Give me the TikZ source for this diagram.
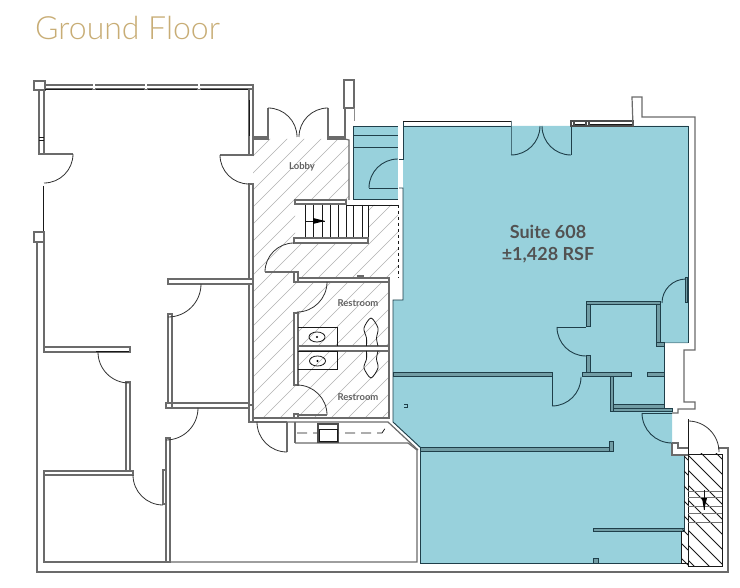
\documentclass[tikz,border=0pt]{standalone}
\usepackage{fontspec}
\setmainfont{Lato}
\newfontfamily\titlefont{Lato Light}
\usetikzlibrary{calc}
\definecolor{suiteblue}{HTML}{98D1DC}
\definecolor{walldark}{HTML}{1F3F4A}
\definecolor{titlegold}{HTML}{C8AD75}
\tikzset{
	greywall/.style={draw=black!58, line width=1.1pt, fill=white},
	bluewall/.style={draw=walldark, line width=1pt, fill=suiteblue!75!black},
	outline/.style={draw=black!58, line width=1.2pt},
	bluedge/.style={draw=walldark, line width=0.9pt},
	swing/.style={draw=black!80, line width=0.8pt},
	thinwall/.style={draw=black!90, line width=0.8pt},
	hatchline/.style={draw=black!30, line width=0.65pt},
	stairline/.style={draw=black!90, line width=0.75pt},
	roomlabel/.style={text=black!62, font=\fontsize{9.5}{11}\selectfont\bfseries},
	suitelabel/.style={text=black!68, font=\fontsize{18}{22}\selectfont\bfseries, align=center}
}
\def\swingdoor[#1](#2)(#3:#4:#5){\draw[#1] ($(#2)+({#5*cos(#3)},{#5*sin(#3)})$) arc (#3:#4:#5);}
\begin{document}
\begin{tikzpicture}[x=1pt, y=-1pt]
	%%%%% START %%%%%
	\useasboundingbox (0, 0) rectangle (740, 588);
	\fill[white] (0, 0) rectangle (740, 588);

	\node[text=titlegold, font=\fontsize{32}{36}\selectfont\titlefont, anchor=west, inner sep=0pt] (title) at (35, 28) {Ground Floor};

	% blue floor of the suite
	\fill[suiteblue] (403, 126) -- (688, 126) -- (688, 343) -- (664, 343) -- (664, 409) -- (672, 409) -- (672, 455) -- (684, 455) -- (684, 528) -- (681, 531) -- (681, 563) -- (420, 563) -- (420, 448) -- (393, 422) -- (393, 300) -- (403, 300) -- cycle;
	\fill[suiteblue] (353, 126) rectangle (398, 199);

	\draw[bluedge] (353, 126) -- (398, 126);
	\draw[bluedge] (353, 126) -- (353, 199) -- (398, 199);
	\draw[bluedge] (353, 135) -- (398, 135);
	\draw[bluedge] (353, 147) -- (398, 147);
	\draw[bluedge] (403, 121) -- (403, 159) -- (399, 159);
	\draw[bluedge] (399, 188) -- (403, 188) -- (403, 300) -- (393, 300) -- (393, 422) -- (421, 448);
	\draw[bluedge] (420, 452) -- (420, 563) -- (681, 563) -- (681, 531);
	\draw[bluedge] (684, 455) -- (684, 528);
	\draw[bluedge] (571, 126) -- (688, 126) -- (688, 343);
	\draw[bluedge] (403, 126) -- (511, 126);
	\draw[bluedge] (664, 347) -- (664, 405);

	% hatched lobby and restrooms
	\begin{scope}
		\clip (253, 139) -- (349, 139) -- (349, 200) -- (295, 200) -- (295, 238) -- (368, 238) -- (368, 205) -- (398, 205) -- (398, 278) -- (389, 281) -- (389, 418) -- (253, 418) -- cycle;
		\foreach \k in {0,...,50}
			\draw[hatchline] ({-60+\k*17}, 418) -- ({240+\k*17}, 118);
	\end{scope}

	% outside walls
	\draw[greywall] (34, 81) rectangle (45, 90);
	\draw[outline] (37, 242) -- (37, 572) -- (728, 572) -- (728, 448) -- (718, 448);
	\draw[outline] (44, 242) -- (44, 347) -- (130, 347);
	\draw[greywall] (39, 90) rectangle (44, 154);
	\draw[thinwall] (39, 137) -- (44, 137);
	\draw[thinwall] (39, 140) -- (44, 140);
	\draw[greywall] (45, 85) rectangle (253, 89);
	\foreach \mx in {93, 145, 198}
		\fill[white] (\mx, 84.5) rectangle ({\mx+2}, 89.5);
	\draw[thinwall] (45, 89.5) -- (92, 89.5) (96, 89.5) -- (144, 89.5) (148, 89.5) -- (197, 89.5) (201, 89.5) -- (249, 89.5);
	\draw[greywall] (249, 89) rectangle (253, 155);
	\draw[thinwall] (249, 100) -- (249, 136);
	\draw[greywall] (253, 137) rectangle (268, 139);
	\draw[outline] (44, 154) -- (73, 154);
	\draw[thinwall] (43, 186) -- (43, 232);
	\draw[greywall] (34, 232) -- (44, 232) -- (44, 242) -- (37, 242) -- (34, 242) -- cycle;

	% inner walls on the left
	\draw[outline] (220, 155) -- (249, 155);
	\draw[greywall] (249, 184) rectangle (253, 279);
	\draw[greywall] (168, 279) rectangle (253, 284);
	\draw[greywall] (249, 284) rectangle (253, 405);
	\draw[greywall] (168, 314) rectangle (172, 403);
	\draw[greywall] (172, 403) rectangle (249, 408);
	\draw[greywall] (166, 403) rectangle (172, 408);
	\draw[greywall] (249, 405) rectangle (253, 422);
	\draw[greywall] (44, 347) rectangle (130, 352);
	\draw[thinwall] (96, 351.5) -- (129, 351.5);
	\draw[greywall] (126, 382) rectangle (130, 471);
	\draw[greywall] (44, 471) rectangle (133, 475);
	\draw[greywall] (163, 470) rectangle (166, 504);
	\draw[greywall] (166, 438) rectangle (170, 562);
	\draw[outline] (44, 475) -- (44, 562) -- (166, 562);
	\draw[outline] (170, 562) -- (417, 562) -- (417, 450) -- (408, 443) -- (295, 443);
	\swingdoor[swing](44, 154)(0:90:29);
	\swingdoor[swing](249, 155)(180:90:29);
	\swingdoor[swing](168, 284)(0:90:33);
	\swingdoor[swing](166, 408)(0:90:32);
	\swingdoor[swing](129, 352)(180:90:31);
	\swingdoor[swing](163, 475)(180:90:30);

	% lobby and stair
	\draw[outline] (268, 108) -- (268, 139);
	\draw[outline] (328, 108) -- (328, 139);
	\swingdoor[swing](268, 137)(270:360:29);
	\swingdoor[swing](328, 137)(270:180:29);
	\draw[greywall] (328, 137) rectangle (345, 139);
	\draw[outline] (345, 139) -- (349, 140) -- (349, 200);
	\draw[greywall] (344, 80) rectangle (354, 108);
	\draw[outline] (345, 108) -- (345, 137);
	\draw[black!45, line width=0.6pt] (354, 108) -- (354, 121);
	\draw[greywall] (295, 200) rectangle (346, 204);
	\draw[thinwall] (346, 205) -- (398, 205);
	\draw[thinwall, dashed] (398, 205) -- (398, 278);
	\foreach \tx in {305, 313, 322, 330, 338, 346, 353, 362}
		\draw[stairline] (\tx, 205) -- (\tx, 238);
	\draw[thinwall] (368, 205) -- (368, 243);
	\draw[greywall] (294, 238) rectangle (368, 243);
	\draw[stairline] (305, 221) -- (325, 221);
	\fill[black] (313, 218) -- (325, 221) -- (313, 224) -- cycle;
	\swingdoor[swing](294, 272)(270:180:29);
	\draw[outline] (265, 272) -- (294, 272);
	\draw[greywall] (294, 272) rectangle (298, 282);
	\draw[greywall] (298, 278) rectangle (389, 282);
	\draw[greywall] (358, 276) rectangle (363, 278);

	% restrooms
	\draw[outline] (389, 282) -- (389, 418) -- (253, 418);
	\draw[greywall] (294, 313) rectangle (298, 385);
	\draw[greywall] (298, 346) rectangle (389, 351);
	\draw[thinwall] (298, 327) -- (337, 327) -- (337, 346);
	\draw[thinwall] (298, 351) -- (337, 351) -- (337, 369) -- (298, 369);
	\draw[thinwall] (317, 337) ellipse (8 and 5);
	\draw[thinwall] (317.5, 361) ellipse (8 and 5);
	\fill[black] (317, 337) circle (1.2);
	\fill[black] (317.5, 361) circle (1.2);
	\draw[thinwall] plot[smooth] coordinates {(366.5, 346) (366.5, 338) (364, 328) (371, 318) (378, 328) (376.5, 338) (378, 346)};
	\draw[thinwall] plot[smooth] coordinates {(366.5, 351) (366.5, 359) (364, 368) (371, 378) (378, 368) (376.5, 359) (378, 351)};
	\swingdoor[swing](297, 282)(0:90:30);
	\swingdoor[swing](297, 415)(270:360:30);
	\draw[outline] (298, 415) -- (327, 415);
	\draw[greywall] (294, 414) rectangle (298, 418);
	\draw[outline] (253, 422) -- (287, 422);
	\draw[outline] (287, 422) -- (388, 422) -- (418, 450);
	\draw[outline] (287, 422) -- (287, 452);
	\draw[outline] (295, 422) -- (295, 443);
	\swingdoor[swing](287, 422)(180:90:30);
	\draw[thinwall, dash pattern=on 10pt off 6pt] (297, 433) -- (382, 433) -- (388, 424);
	\draw[greywall, draw=black!70] (318, 424) rectangle (338, 442);
	\draw[thinwall] (319, 429) rectangle (337, 441);

	% walls inside the suite
	\swingdoor[bluedge](398, 188)(270:180:29);
	\draw[bluedge] (369, 188) -- (398, 188);
	\draw[thinwall] (403, 121) -- (511, 121);
	\draw[bluewall] (511, 121) rectangle (511, 155);
	\swingdoor[bluedge](511, 126)(90:0:29);
	\swingdoor[bluedge](571, 126)(90:180:29);
	\draw[bluedge] (571, 121) -- (571, 155);
	\draw[greywall, draw=black!70] (571, 121) rectangle (633, 126);
	\draw[thinwall] (575, 124) -- (633, 124);
	\draw[greywall, draw=black!70] (571, 121) rectangle (574, 126);
	\draw[greywall, draw=black!70] (586, 121) rectangle (589, 126);
	\draw[outline] (633, 126) -- (632, 97) -- (642, 97) -- (642, 117) -- (695, 117) -- (695, 350) -- (684, 350) -- (684, 402) -- (695, 402) -- (695, 409) -- (678, 409) -- (678, 413) -- (672, 413);
	\draw[outline] (672, 443) -- (678, 443) -- (678, 448) -- (688, 448);
	\draw[outline] (672, 443) -- (672, 455) -- (688, 455);

	\draw[bluewall] (586, 302) rectangle (660, 305);
	\draw[bluewall] (586, 305) rectangle (590, 327);
	\draw[bluewall] (586, 356) rectangle (590, 373);
	\draw[bluewall] (582, 373) rectangle (631, 377);
	\draw[bluewall] (647, 373) rectangle (664, 377);
	\draw[bluewall] (610, 377) rectangle (613, 412);
	\draw[bluewall] (613, 405) rectangle (664, 409);
	\draw[bluewall] (613, 409) rectangle (672, 412);
	\draw[bluewall] (656, 305) rectangle (660, 343);
	\draw[bluewall] (660, 343) rectangle (688, 343);
	\draw[bluewall] (656, 343) rectangle (664, 347);
	\draw[bluewall] (685, 278) rectangle (687, 303);
	\draw[bluewall] (393, 373) rectangle (552, 377);
	\draw[bluewall] (420, 448) rectangle (613, 452);
	\draw[bluewall] (609, 442) rectangle (613, 452);
	\draw[bluewall] (593, 528) rectangle (684, 531);
	\draw[bluewall] (593, 558) rectangle (598, 563);
	\draw[bluedge] (552, 377) -- (552, 406);
	\draw[bluedge] (557, 327) -- (586, 327);
	\draw[bluedge] (642, 413) -- (672, 413);
	\swingdoor[bluedge](586, 327)(180:90:29);
	\swingdoor[bluedge](552, 377)(0:90:29);
	\swingdoor[bluedge](686, 303)(270:180:24);
	\swingdoor[bluedge](672, 413)(180:90:30);
	\draw[bluedge] (404, 404) -- (407, 404) -- (407, 407) -- (404, 407);

	% back stair
	\begin{scope}
		\clip (688, 454) rectangle (722, 566);
		\foreach \k in {0,...,12}
			\draw[stairline] (688, {395+\k*15}) -- (738, {445+\k*15});
	\end{scope}
	\begin{scope}
		\clip (681, 531) -- (684, 528) -- (684, 455) -- (688, 455) -- (688, 566) -- (681, 566) -- cycle;
		\foreach \k in {0,...,9}
			\draw[stairline] (678, {450+\k*15}) -- (688, {460+\k*15});
	\end{scope}
	\draw[thinwall] (688, 454) rectangle (722, 566);
	\draw[thinwall] (681, 531) -- (681, 563) -- (688, 563);
	\foreach \ty in {491, 497, 506, 513, 522}
		\draw[black!55, line width=1pt] (688, \ty) -- (722, \ty);
	\draw[stairline] (704, 490) -- (704, 510);
	\fill[black] (702, 498) -- (707, 498) -- (704, 510) -- cycle;
	\draw[thinwall] (688, 454) -- (688, 419);
	\swingdoor[swing](688, 452)(270:360:31);

	\node[suitelabel] (suitename) at (548, 244) {Suite 608\\±1,428 RSF};
	\node[roomlabel] (lobbylabel) at (302, 167) {Lobby};
	\node[roomlabel] (restroomone) at (358, 303) {Restroom};
	\node[roomlabel] (restroomtwo) at (358, 397) {Restroom};
	%%%%% END %%%%%
\end{tikzpicture}
\end{document}
